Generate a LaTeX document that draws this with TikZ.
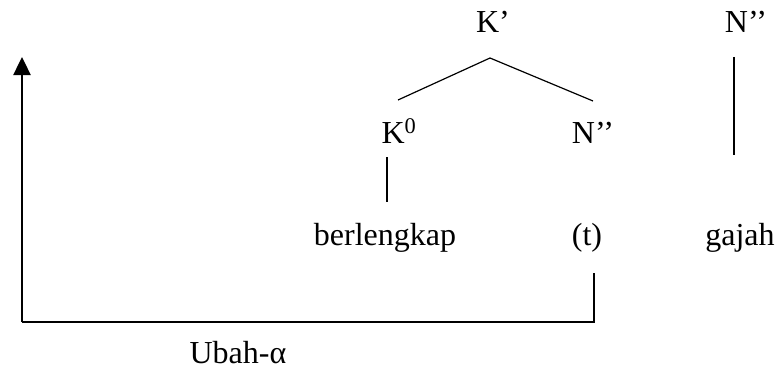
\documentclass[tikz,border=0pt]{standalone}
\usepackage{fontspec}
\setmainfont{Liberation Serif}
\usetikzlibrary{arrows.meta}
\begin{document}
\begin{tikzpicture}[x=1pt,y=-1pt,
  lbl/.style={anchor=base,inner sep=0pt,font=\fontsize{32}{38}\selectfont},
  branch/.style={line width=1.2pt},
  move/.style={line width=1.2pt},
  raise/.style={line width=2.4pt,-{Triangle[length=18pt,width=17pt]}}]
\useasboundingbox (0,0) rectangle (776,369);
% labels of the tree
\node[lbl] (Kp) at (493,33) {K’};
\node[lbl] (K0) at (399,143) {K\textsuperscript{0}};
\node[lbl] (Nm) at (593,143) {N’’};
\node[lbl] (Nr) at (746,33) {N’’};
\node[lbl] (berl) at (385,245) {berlengkap};
\node[lbl] (t) at (587,245) {(t)};
\node[lbl] (gajah) at (740,245) {gajah};
\node[lbl] (ubah) at (238,363) {Ubah-α};
% branch end points
\coordinate (kpTop) at (490,58);
\coordinate (k0Top) at (398,100);
\coordinate (nmTop) at (593,101);
\coordinate (k0Bot) at (387,157);
\coordinate (berlTop) at (387,202);
\coordinate (nrBot) at (734,57);
\coordinate (gajahTop) at (734,155);
\coordinate (tBot) at (594,273);
\coordinate (corner) at (594,322);
\coordinate (origin) at (22,322);
\coordinate (tip) at (22,57);
% tree branches
\draw[branch] (k0Top) -- (kpTop) -- (nmTop);
\draw[branch] (k0Bot) -- (berlTop);
\draw[branch] (nrBot) -- (gajahTop);
% movement path
\draw[move] (tBot) -- (corner) -- (origin);
\draw[raise] (origin) -- (tip);
\end{tikzpicture}
\end{document}
